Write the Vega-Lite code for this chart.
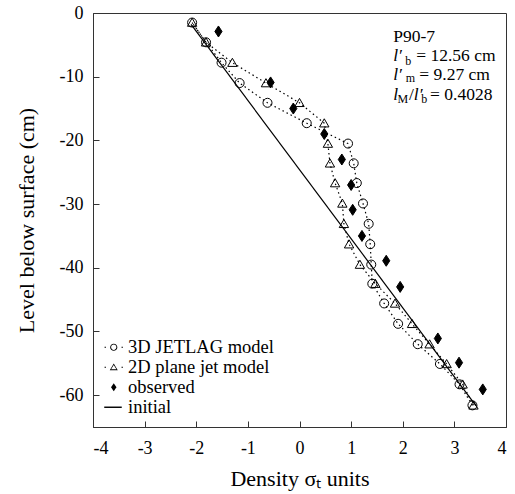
{
  "$schema": "https://vega.github.io/schema/vega-lite/v6.json",
  "width": 413,
  "height": 414,
  "autosize": {"type": "none"},
  "padding": {"left": 93, "top": 13, "right": 9, "bottom": 67},
  "background": "white",
  "config": {
    "view": {"stroke": "#333", "strokeWidth": 1},
    "axis": {
      "labelFont": "Liberation Serif", "labelFontSize": 18, "labelColor": "black",
      "titleFont": "Liberation Serif", "titleFontSize": 22, "titleFontWeight": "normal", "titleColor": "black",
      "grid": false, "domainColor": "#333", "tickColor": "#333", "tickSize": -6
    }
  },
  "resolve": {"scale": {"shape": "independent"}, "legend": {"shape": "independent"}},
  "datasets": {
    "pts": [
      {"series": "3D JETLAG model", "x": -2.08, "y": -1.5},
      {"series": "3D JETLAG model", "x": -1.81, "y": -4.6},
      {"series": "3D JETLAG model", "x": -1.51, "y": -7.8},
      {"series": "3D JETLAG model", "x": -1.16, "y": -11.0},
      {"series": "3D JETLAG model", "x": -0.62, "y": -14.1},
      {"series": "3D JETLAG model", "x": 0.14, "y": -17.3},
      {"series": "3D JETLAG model", "x": 0.94, "y": -20.5},
      {"series": "3D JETLAG model", "x": 1.05, "y": -23.6},
      {"series": "3D JETLAG model", "x": 1.11, "y": -26.7},
      {"series": "3D JETLAG model", "x": 1.23, "y": -29.9},
      {"series": "3D JETLAG model", "x": 1.34, "y": -33.1},
      {"series": "3D JETLAG model", "x": 1.37, "y": -36.3},
      {"series": "3D JETLAG model", "x": 1.39, "y": -39.5},
      {"series": "3D JETLAG model", "x": 1.41, "y": -42.5},
      {"series": "3D JETLAG model", "x": 1.64, "y": -45.6},
      {"series": "3D JETLAG model", "x": 1.91, "y": -48.8},
      {"series": "3D JETLAG model", "x": 2.29, "y": -52.0},
      {"series": "3D JETLAG model", "x": 2.72, "y": -55.1},
      {"series": "3D JETLAG model", "x": 3.10, "y": -58.3},
      {"series": "3D JETLAG model", "x": 3.35, "y": -61.6},
      {"series": "2D plane jet model", "x": -2.08, "y": -1.5},
      {"series": "2D plane jet model", "x": -1.81, "y": -4.6},
      {"series": "2D plane jet model", "x": -1.30, "y": -7.8},
      {"series": "2D plane jet model", "x": -0.65, "y": -11.0},
      {"series": "2D plane jet model", "x": 0.0, "y": -14.1},
      {"series": "2D plane jet model", "x": 0.48, "y": -17.3},
      {"series": "2D plane jet model", "x": 0.55, "y": -20.5},
      {"series": "2D plane jet model", "x": 0.59, "y": -23.6},
      {"series": "2D plane jet model", "x": 0.69, "y": -26.7},
      {"series": "2D plane jet model", "x": 0.83, "y": -29.9},
      {"series": "2D plane jet model", "x": 0.86, "y": -33.1},
      {"series": "2D plane jet model", "x": 0.96, "y": -36.3},
      {"series": "2D plane jet model", "x": 1.17, "y": -39.5},
      {"series": "2D plane jet model", "x": 1.47, "y": -42.5},
      {"series": "2D plane jet model", "x": 1.85, "y": -45.6},
      {"series": "2D plane jet model", "x": 2.18, "y": -48.8},
      {"series": "2D plane jet model", "x": 2.52, "y": -52.0},
      {"series": "2D plane jet model", "x": 2.85, "y": -55.1},
      {"series": "2D plane jet model", "x": 3.16, "y": -58.3},
      {"series": "2D plane jet model", "x": 3.37, "y": -61.6},
      {"series": "observed", "x": -1.57, "y": -2.9},
      {"series": "observed", "x": -0.56, "y": -10.9},
      {"series": "observed", "x": -0.12, "y": -15.0},
      {"series": "observed", "x": 0.48, "y": -19.0},
      {"series": "observed", "x": 0.82, "y": -23.0},
      {"series": "observed", "x": 1.0, "y": -27.0},
      {"series": "observed", "x": 1.03, "y": -30.9},
      {"series": "observed", "x": 1.21, "y": -35.0},
      {"series": "observed", "x": 1.68, "y": -38.9},
      {"series": "observed", "x": 1.95, "y": -43.0},
      {"series": "observed", "x": 2.68, "y": -51.1},
      {"series": "observed", "x": 3.09, "y": -54.9},
      {"series": "observed", "x": 3.55, "y": -59.1},
      {"series": "initial", "x": -2.1, "y": -1.8},
      {"series": "initial", "x": 3.42, "y": -61.7}
    ],
    "ann": [
      {"kind": "roman", "x": 1.814, "y": -3.77, "t": "P90-7"},
      {"kind": "italic", "x": 1.814, "y": -6.75, "t": "l′"},
      {"kind": "sub", "x": 2.05, "y": -7.5, "t": "b"},
      {"kind": "roman", "x": 2.26, "y": -6.75, "t": "= 12.56 cm"},
      {"kind": "italic", "x": 1.814, "y": -9.73, "t": "l′"},
      {"kind": "sub", "x": 2.06, "y": -10.25, "t": "m"},
      {"kind": "roman", "x": 2.32, "y": -9.73, "t": "= 9.27 cm"},
      {"kind": "italic", "x": 1.814, "y": -12.85, "t": "l"},
      {"kind": "sub", "x": 1.9, "y": -13.5, "t": "M"},
      {"kind": "roman", "x": 2.12, "y": -12.85, "t": "/"},
      {"kind": "italic", "x": 2.215, "y": -12.85, "t": "l′"},
      {"kind": "sub", "x": 2.36, "y": -13.5, "t": "b"},
      {"kind": "roman", "x": 2.53, "y": -12.85, "t": "= 0.4028"}
    ]
  },
  "layer": [
    {
      "data": {"name": "pts"},
      "transform": [{"filter": "datum.series == '3D JETLAG model' || datum.series == '2D plane jet model'"}],
      "mark": {"type": "line", "color": "black", "strokeDash": [1.5, 3], "strokeWidth": 1.2},
      "encoding": {
        "x": {"field": "x", "type": "quantitative", "scale": {"domain": [-4, 4], "nice": false},
              "axis": {"title": "Density σₜ units", "values": [-4, -3, -2, -1, 0, 1, 2, 3, 4], "labelExpr": "'' + datum.value", "labelPadding": 18, "titlePadding": 11}},
        "y": {"field": "y", "type": "quantitative", "scale": {"domain": [-65, 0], "nice": false},
              "axis": {"title": "Level below surface (cm)", "values": [0, -10, -20, -30, -40, -50, -60], "labelExpr": "'' + datum.value", "labelPadding": 16, "titlePadding": 21}},
        "detail": {"field": "series"},
        "order": {"field": "y", "type": "quantitative"}
      }
    },
    {
      "data": {"name": "pts"},
      "transform": [{"filter": "datum.series == 'initial'"}],
      "mark": {"type": "line", "color": "black", "strokeWidth": 1.2},
      "encoding": {
        "x": {"field": "x", "type": "quantitative"},
        "y": {"field": "y", "type": "quantitative"}
      }
    },
    {
      "data": {"name": "pts"},
      "transform": [{"filter": "datum.series != 'initial'"}],
      "mark": {"type": "point", "stroke": "black", "strokeWidth": 1, "size": 121, "opacity": 1},
      "encoding": {
        "x": {"field": "x", "type": "quantitative"},
        "y": {"field": "y", "type": "quantitative"},
        "shape": {
          "field": "series", "type": "nominal",
          "scale": {
            "domain": ["3D JETLAG model", "2D plane jet model", "observed", "initial"],
            "range": [
              "M0.82,0A0.82,0.82 0 1,1 -0.82,0A0.82,0.82 0 1,1 0.82,0Z",
              "M0,-0.8L0.85,0.68L-0.85,0.68Z",
              "M0,-1L0.65,0L0,1L-0.65,0Z",
              "M-1,0H1"
            ]
          },
          "legend": null
        },
        "fill": {
          "field": "series", "type": "nominal",
          "scale": {
            "domain": ["3D JETLAG model", "2D plane jet model", "observed", "initial"],
            "range": ["transparent", "transparent", "black", "black"]
          },
          "legend": null
        }
      }
    },
    {
      "data": {"name": "pts"},
      "transform": [{"filter": "false"}],
      "mark": {"type": "point", "stroke": "transparent", "strokeWidth": 0, "size": 256, "opacity": 1},
      "encoding": {
        "x": {"field": "x", "type": "quantitative"},
        "y": {"field": "y", "type": "quantitative"},
        "shape": {
          "field": "series", "type": "nominal",
          "scale": {
            "domain": ["3D JETLAG model", "2D plane jet model", "observed", "initial"],
            "range": [
              "M-1.15,-0.07H-0.97V0.07H-1.15ZM0.97,-0.07H1.15V0.07H0.97ZM0.45,0A0.45,0.45 0 1,1 -0.45,0A0.45,0.45 0 1,1 0.45,0ZM0.33,0A0.33,0.33 0 1,0 -0.33,0A0.33,0.33 0 1,0 0.33,0Z",
              "M-1.15,-0.07H-0.97V0.07H-1.15ZM0.97,-0.07H1.15V0.07H0.97ZM0,-0.46L0.5,0.37L-0.5,0.37ZM0,-0.27L-0.33,0.26L0.33,0.26Z",
              "M0,-0.5L0.34,0L0,0.5L-0.34,0Z",
              "M-1.19,-0.09H1V0.09H-1.19Z"
            ]
          },
          "legend": {
            "title": null, "orient": "none", "legendX": 11.5, "legendY": 325,
            "labelFont": "Liberation Serif", "labelFontSize": 18.5, "labelColor": "black",
            "symbolSize": 256, "symbolStrokeWidth": 0, "rowPadding": 1, "labelOffset": 5, "padding": 0
          }
        },
        "fill": {
          "field": "series", "type": "nominal",
          "legend": null
        }
      }
    },
    {
      "data": {"name": "ann"},
      "transform": [{"filter": "datum.kind == 'roman'"}],
      "mark": {"type": "text", "align": "left", "baseline": "middle", "font": "Liberation Serif", "fontSize": 17.5, "color": "black"},
      "encoding": {
        "x": {"field": "x", "type": "quantitative"},
        "y": {"field": "y", "type": "quantitative"},
        "text": {"field": "t"}
      }
    },
    {
      "data": {"name": "ann"},
      "transform": [{"filter": "datum.kind == 'italic'"}],
      "mark": {"type": "text", "align": "left", "baseline": "middle", "font": "Liberation Serif", "fontStyle": "italic", "fontSize": 17.5, "color": "black"},
      "encoding": {
        "x": {"field": "x", "type": "quantitative"},
        "y": {"field": "y", "type": "quantitative"},
        "text": {"field": "t"}
      }
    },
    {
      "data": {"name": "ann"},
      "transform": [{"filter": "datum.kind == 'sub'"}],
      "mark": {"type": "text", "align": "left", "baseline": "middle", "font": "Liberation Serif", "fontSize": 12, "color": "black"},
      "encoding": {
        "x": {"field": "x", "type": "quantitative"},
        "y": {"field": "y", "type": "quantitative"},
        "text": {"field": "t"}
      }
    }
  ]
}
